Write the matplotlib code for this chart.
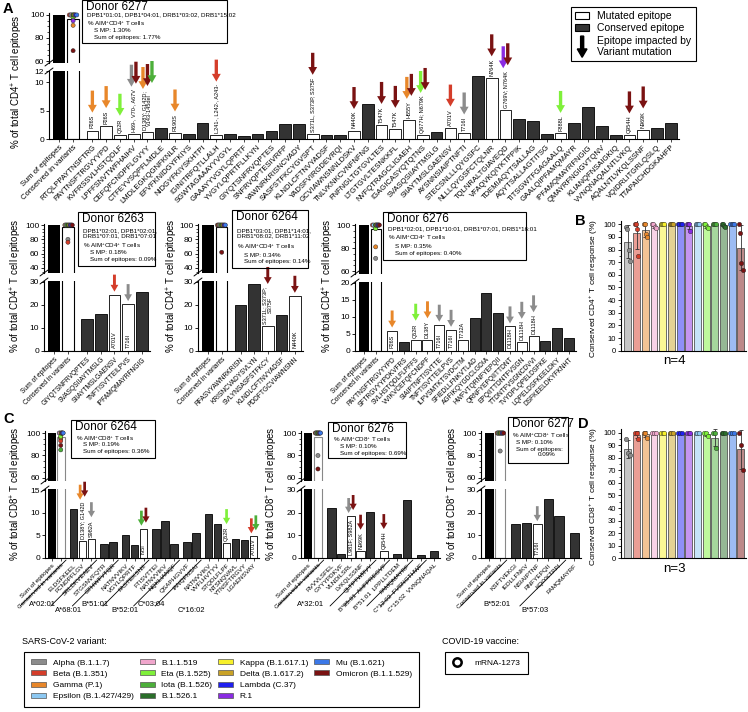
import numpy as np
import matplotlib
matplotlib.use('Agg')
import matplotlib.pyplot as plt
from matplotlib.patches import Patch, Rectangle, FancyArrow
from matplotlib.lines import Line2D
from matplotlib.legend_handler import HandlerPatch
from matplotlib.textpath import TextPath
from matplotlib.font_manager import FontProperties
from matplotlib.ticker import MultipleLocator
from matplotlib.transforms import offset_copy
from matplotlib.colors import to_rgb

plt.rcParams['font.family'] = ['Liberation Sans', 'DejaVu Sans']
plt.rcParams['mathtext.fontset'] = 'custom'
plt.rcParams['mathtext.rm'] = 'Liberation Sans'
plt.rcParams['mathtext.it'] = 'Liberation Sans:italic'
plt.rcParams['mathtext.bf'] = 'Liberation Sans:bold'
plt.rcParams['axes.linewidth'] = 0.8

# ---------------- data ----------------
variant_keys = ['Alpha', 'Beta', 'Gamma', 'Epsilon', 'B.1.1.519', 'Eta', 'Iota', 'B.1.526.1',
                'Kappa', 'Delta', 'Lambda', 'R.1', 'Mu', 'Omicron']
variant_labels = ['Alpha (B.1.1.7)', 'Beta (B.1.351)', 'Gamma (P.1)', 'Epsilon (B.1.427/429)',
                  'B.1.1.519', 'Eta (B.1.525)', 'Iota (B.1.526)', 'B.1.526.1',
                  'Kappa (B.1.617.1)', 'Delta (B.1.617.2)', 'Lambda (C.37)', 'R.1',
                  'Mu (B.1.621)', 'Omicron (B.1.1.529)']
variant_colors = ['#8c8c8c', '#d43d2a', '#e8872a', '#8cc8f2', '#f0a6cc', '#7ff03a', '#4caf3a', '#2a6e2a',
                  '#f7f02a', '#c9a227', '#1f1ff0', '#8a2be2', '#3b78e7', '#7a1212']
summary_order = [0, 1, 2, 4, 8, 9, 10, 11, 3, 5, 6, 7, 12, 13]

# panel A, donor 6277 (CD4)
a6277_epitopes = ["RTQLPPAYTNSFTRG", "PAYTNSFTRGVYYPD", "KVFRSSVLHSTQDLF", "LPFFSNVTWFHAIHV",
                  "CEFQFCNDPFLGVYY", "CTFEYVSQPFLMDLE", "LMDLEGKQGNFKNLR", "EFVFKNIDGYFKIYS",
                  "NIDGYFKIYSKHTPI", "IGINITRFQTLLALH", "SGWTAGAAAYYVGYL", "GAAAYYVGYLQPRTF",
                  "YVGYLQPRTFLLKYN", "GIYQTSNFRVQPTES", "SNFRVQPTESIVRFP", "YAWNRKRISNCVADY",
                  "SASFSTFKCYGVSPT", "KLNDLCFTNVYADSF", "YADSFVIRGDEVRQI", "GCVIAWNSNNLDSKV",
                  "TNLVKNKCVNFNFNG", "FNFNGLTGTGVLTES", "LTGTGVLTESNKKFL", "NVFQTRAGCLIGAEH",
                  "IGAGICASYQTQTNS", "SVASQSIIAYTMSLG", "SIIAYTMSLGAENSV", "AYSNNSIAIPTNFTI",
                  "STECSNLLLQYGSFC", "NLLLQYGSFCTQLNR", "TQLNRALTGIAVEQD", "VFAQVKQIYKTPPIK",
                  "TDEMIAQYTSALLAG", "AQYTSALLAGTITSG", "TITSGWTFGAGAALQ", "GAALQIPFAMQMAYR",
                  "IPFAMQMAYRFNGIG", "QMAYRFNGIGVTQNV", "KLIANQFNSAIGKIQ", "VVNQNAQALNTLVKQ",
                  "AQALNTLVKQLSSNF", "VQIDRLITGRLQSLQ", "TTAPAICHDGKAHFP"]
a6277_values = [1.5, 2.3, 0.75, 0.8, 1.25, 1.9, 1.1, 0.95, 2.8, 0.7, 0.8, 0.6, 0.8, 1.5, 2.6, 2.6,
                0.9, 0.65, 0.65, 1.5, 6.2, 2.45, 1.75, 3.3, 0.65, 1.2, 1.9, 1.05, 11.2, 10.8, 5.1,
                3.6, 3.2, 0.95, 1.05, 2.8, 5.6, 2.35, 0.75, 0.65, 1.6, 2.0, 2.8]
a6277_mutations = {0: ("P26S", ["Gamma"]), 1: ("P26S", ["Gamma"]), 2: ("Q52R", ["Eta"]),
                   3: ("H69-, V70-, A67V", ["Alpha", "Omicron"]),
                   4: ("D138Y; G142D;\nV143-145del", ["Gamma", "Omicron", "Iota"]),
                   6: ("R190S", ["Gamma"]), 9: ("L241-, L242-, A243-", ["Beta"]),
                   16: ("S371L, S373P, S375F", ["Omicron"]), 19: ("N440K", ["Omicron"]),
                   21: ("T547K", ["Omicron"]), 22: ("T547K", ["Omicron"]),
                   23: ("H655Y", ["Gamma", "Omicron"]), 24: ("Q677H; N679K", ["Eta", "Omicron"]),
                   26: ("A701V", ["Beta"]), 27: ("T716I", ["Alpha"]), 29: ("N764K", ["Omicron"]),
                   30: ("G769V; N764K", ["R.1", "Omicron"]), 34: ("F888L", ["Eta"]),
                   39: ("Q954H", ["Omicron"]), 40: ("N969K", ["Omicron"])}
a6277_conserved = [98, 100, 91, 100, 100, 98, 100, 100, 100, 100, 100, 95, 100, 69]

# donor 6263 (CD4)
a6263_epitopes = ["GIYQTSNFRVQPTES", "SVASQSIIAYTMSLG", "SIIAYTMSLGAENSV", "TNFTISVTTEILPVS", "IPFAMQMAYRFNGIG"]
a6263_values = [13.7, 15.9, 24.4, 20.3, 25.5]
a6263_mutations = {2: ("A701V", ["Beta"]), 3: ("T716I", ["Alpha"])}
a6263_conserved = [80, 76, 100, 100, 100, 100, 100, 100, 100, 100, 100, 100, 100, 100]

# donor 6264 (CD4)
a6264_epitopes = ["RFASVYAWNRKRISN", "KRISNCVADYSVLYN", "SVLYNSASFSTFKCY", "KLNDLCFTNVYADSF", "PDDFTGCVIAWNSNN"]
a6264_values = [19.7, 28.8, 11.0, 15.4, 23.9]
a6264_mutations = {2: ("S371L; S373P;\nS375F", ["Omicron"]), 4: ("N440K", ["Omicron"])}
a6264_conserved = [100, 100, 100, 100, 100, 100, 100, 100, 100, 100, 100, 100, 100, 62]

# donor 6276 (CD4)
a6276_epitopes = ["PAYTNSFTRGVYYPD", "SFTRGVYYPDKVFRS", "SVLHSTQDLFLPFFS", "VVIKVCEFQFCNDPF",
                  "SIAIPTNFTISVTTE", "TNFTISVTTEILPVS", "ILPVSMTKTSVDCTM", "SFIEDLLFNKVTLAD",
                  "AGFIKQYGDCLGDIA", "HWFVTQRNFYEPQII", "QRNFYEPQIITTDNT", "EPQIITTDNTFVSGN",
                  "TTDNTFVSGNCDVVI", "TVYDPLQPELDSFKE", "LQPELDSFKEELDKY", "DSFKEELDKYFKNHT"]
a6276_values = [6.0, 2.5, 3.3, 3.3, 7.7, 6.2, 3.1, 9.8, 17.0, 11.2, 7.2, 2.5, 4.4, 2.8, 6.8, 3.9]
a6276_mutations = {0: ("P26S", ["Gamma"]), 2: ("Q52R", ["Eta"]), 3: ("D138Y", ["Gamma"]),
                   4: ("T716I", ["Alpha"]), 5: ("T716I", ["Alpha"]), 6: ("T732A", []),
                   10: ("D1118H", ["Alpha"]), 11: ("D1118H", ["Alpha"]), 12: ("D1118H", ["Alpha"])}
a6276_conserved = [71, 100, 81, 100, 97, 97, 100, 100, 100, 100, 100, 100, 100, 100]

# panel C, CD8
c6264_epitopes = ["ELDSFKEEL", "FCNDPFLGV", "SRLDKVEAEV", "STGSNVFQTR", "GTHWFVTQR", "NATNVVIKV",
                  "VGYLQPRTF", "FASTEKSNII", "FTISVTTEI", "NATNVVIKV", "NQKLIANQF", "QSAPHGVVF",
                  "IANQFNSAI", "NATNVVIKV", "VVFLHVTYV", "STQDLFLPF", "NTSNQVAVL", "YTNSFTRGVY",
                  "LGAENSVAY"]
c6264_values = [10.8, 3.7, 4.3, 3.0, 3.5, 5.2, 2.8, 6.5, 6.4, 8.1, 3.0, 3.5, 5.6, 9.8, 7.5, 3.3, 4.3, 4.0, 4.8]
c6264_groups = [3, 2, 3, 3, 2, 6]
c6264_hla = ["A*02:01", "A*68:01", "B*51:01", "B*52:01", "C*03:04", "C*16:02"]
c6264_mutations = {1: ("D138Y; G142D", ["Gamma", "Omicron"]), 2: ("S982A", ["Alpha"]),
                   7: ("T95I", ["Iota", "Omicron"]), 15: ("Q52R", ["Eta"]), 18: ("A701V", ["Beta", "Iota"])}
c6264_conserved = [95, 93, 96, 100, 100, 97, 85, 100, 100, 100, 100, 100, 100, 89]

c6276_epitopes = ["RVVVLSFEL", "GYYYPDKVF", "VLNDILSRL", "LVKQLSSNF", "QLTPTWRVY",
                  "B*35:01  AHFPREGVF", "B*51:01  LPPLLTDEM", "FAMQMAYRF",
                  "C*12:03  FVSNGTHWF", "C*15:02  VVNQNAQAL"]
c6276_values = [21.9, 1.8, 18.5, 3.0, 20.2, 3.1, 1.8, 25.5, 1.5, 3.2]
c6276_groups = [5, 1, 2, 1, 1]
c6276_hla = ["A*32:01", None, None, None, None]
c6276_mutations = {2: ("L981F; S982A", ["Alpha", "Omicron"]), 3: ("N969K", ["Omicron"]),
                   5: ("Q954H", ["Omicron"])}
c6276_conserved = [80, 100, 100, 100, 100, 100, 100, 100, 100, 100, 100, 100, 100, 68]

c6277_epitopes = ["KSFTVEKGI", "IEDLLFNKV", "NSIAIPTNF", "RNFYEPQII", "KQIYKTPPI", "FAMQMAYRF"]
c6277_values = [14.9, 15.5, 14.9, 25.8, 18.3, 10.8]
c6277_groups = [5, 1]
c6277_hla = ["B*52:01", "B*57:03"]
c6277_mutations = {2: ("T716I", ["Alpha"])}
c6277_conserved = [84, 100, 100, 100, 100, 100, 100, 100, 100, 100, 100, 100, 100, 100]

# panels B and D: conserved response per variant, one value per donor (legend order)
cd4_summary = [[98, 96, 80, 71], [100, 100, 96, 75], [100, 100, 92, 90], [100, 100, 100, 100],
               [100, 100, 98, 97], [100, 100, 98, 97], [100, 100, 100, 100], [100, 100, 99, 98],
               [100, 100, 100, 100], [100, 100, 100, 100], [100, 100, 100, 100], [100, 100, 100, 95],
               [100, 100, 100, 100], [100, 93, 69, 64]]
cd8_summary = [[95, 84, 82], [100, 100, 95], [100, 100, 96], [100, 100, 100], [100, 100, 100],
               [100, 100, 97], [100, 100, 88], [100, 100, 100], [100, 100, 100], [100, 100, 100],
               [100, 100, 100], [100, 100, 100], [100, 100, 100], [100, 90, 70]]

# ---------------- drawing ----------------
W, H = 748, 712
fig = plt.figure(figsize=(W / 100, H / 100), dpi=100)
color_of = dict(zip(variant_keys, variant_colors))
light = [tuple(0.5 * np.array(to_rgb(c)) + 0.5) for c in variant_colors]
fp = FontProperties(family='Liberation Sans')


def px_axes(x0, y0, x1, y1):
    return fig.add_axes([x0 / W, 1 - y1 / H, (x1 - x0) / W, (y1 - y0) / H])


def fig_text(x, y, s, **kw):
    return fig.text(x / W, 1 - y / H, s, **kw)


def text_px(s, size):
    return max(TextPath((0, 0), line, size=size, prop=fp).get_extents().width for line in s.split('\n')) * 100 / 72


def drop_arrow(ax, x, y, dx, dy, color, length, scale):
    tr = offset_copy(ax.transData, fig=fig, x=dx, y=dy, units='dots')
    ax.annotate('', xy=(x, y), xycoords=tr, xytext=(0, length), textcoords='offset pixels',
                arrowprops=dict(arrowstyle='simple,head_length=0.7,head_width=0.8,tail_width=0.3',
                                fc=color, ec='none', mutation_scale=scale, shrinkA=0, shrinkB=0),
                annotation_clip=False)


def break_mark(ax, ypos):
    tr = offset_copy(ax.transAxes, fig=fig, x=-4, y=-3, units='dots')
    ax.annotate('', xy=(0, ypos), xycoords=tr, xytext=(8, 6), textcoords='offset pixels',
                arrowprops=dict(arrowstyle='-', lw=0.7, color='black', shrinkA=0, shrinkB=0),
                annotation_clip=False)


def donor_panel(x0, x1, hi_px, lo_px, hi_lim, lo_lim, hi_ticks, lo_ticks, epitopes, values,
                mutations, conserved, groups=None, hla=None, inside=True, arrow_len=18,
                arrow_scale=7, label_size=5, cons_edge='black'):
    sizes = groups if groups else [len(values)]
    xs, start = [], 2.4
    for g in sizes:
        xs.extend(start + np.arange(g))
        start += g + 0.4
    xs = np.array(xs)
    ax_hi = px_axes(x0, hi_px[0], x1, hi_px[1])
    ax_lo = px_axes(x0, lo_px[0], x1, lo_px[1])
    cons_mean = np.mean(conserved)
    for ax in (ax_hi, ax_lo):
        ax.bar(0, 100, width=0.85, color='black', lw=0)
        ax.bar(1, cons_mean, width=0.85, color='white', edgecolor=cons_edge, lw=0.8)
        ax.set_xlim(-0.75, xs[-1] + 0.6)
        ax.spines[['top', 'right']].set_visible(False)
        ax.tick_params(axis='y', labelsize=6, length=2.5, width=0.6, pad=1)
        ax.tick_params(axis='y', which='minor', length=1.5, width=0.5)
    ax_hi.set_ylim(hi_lim)
    ax_hi.set_yticks(hi_ticks)
    ax_hi.yaxis.set_minor_locator(MultipleLocator(5))
    ax_hi.spines['bottom'].set_visible(False)
    ax_hi.set_xticks([])
    ax_lo.set_ylim(lo_lim)
    ax_lo.set_yticks(lo_ticks)
    break_mark(ax_hi, 0)
    break_mark(ax_lo, 1)

    is_mut = np.array([i in mutations for i in range(len(values))])
    ax_lo.bar(xs, values, width=0.85, color=np.where(is_mut, 'white', '#333333'),
              edgecolor='black', lw=0.6)
    ax_lo.set_xticks([0, 1] + list(xs))
    ax_lo.set_xticklabels(['Sum of epitopes', 'Conserved in variants'] + list(epitopes),
                          rotation=45, ha='right', rotation_mode='anchor', fontsize=label_size)
    ax_lo.tick_params(axis='x', length=2, width=0.5, pad=1.5)

    ppu = ax_lo.bbox.height / (lo_lim[1] - lo_lim[0])
    for i, (txt, vs) in mutations.items():
        tw = text_px(txt, 4)
        bar_px = values[i] * ppu
        if inside and bar_px >= tw + 5:
            ax_lo.annotate(txt, xy=(xs[i], 0), xytext=(0, 3), textcoords='offset pixels', rotation=90,
                           ha='center', va='bottom', fontsize=4, linespacing=1.0)
            base = 3
        else:
            ax_lo.annotate(txt, xy=(xs[i], values[i]), xytext=(0, 2), textcoords='offset pixels',
                           rotation=90, ha='center', va='bottom', fontsize=4, linespacing=1.0,
                           annotation_clip=False)
            base = tw + 5
        n = len(vs)
        for k, v in enumerate(vs):
            drop_arrow(ax_lo, xs[i], values[i], (k - (n - 1) / 2) * 4.5, base + k * 3,
                       color_of[v], arrow_len, arrow_scale)

    vals = np.array(conserved)
    xd = np.where(vals >= 99.5, 1 + np.linspace(-0.32, 0.32, len(vals)), 1.0)
    ax_hi.scatter(xd, vals, c=variant_colors, s=9, edgecolor='#222222', lw=0.3, zorder=3, clip_on=False)

    if groups:
        ends = np.cumsum(sizes)
        bounds = [1.7] + [(xs[e - 1] + xs[e]) / 2 for e in ends[:-1]]
        for b in bounds:
            tr = offset_copy(ax_lo.get_xaxis_transform(), fig=fig, x=-1, y=-2, units='dots')
            ax_lo.annotate('', xy=(b, 0), xycoords=tr, xytext=(-46, -46), textcoords='offset pixels',
                           arrowprops=dict(arrowstyle='-', lw=0.6, color='black', shrinkA=0, shrinkB=0),
                           annotation_clip=False)
        starts = np.concatenate([[0], ends[:-1]])
        for j, (s0, e0) in enumerate(zip(starts, ends)):
            if hla[j] is None:
                continue
            tr = offset_copy(ax_lo.get_xaxis_transform(), fig=fig, x=-40, y=-46 - 6 * (j % 2), units='dots')
            ax_lo.text(xs[s0:e0].mean(), 0, hla[j], transform=tr, ha='center', va='center', fontsize=5.5)
    return ax_hi, ax_lo


def info_box(x0, y0, x1, y1, title, lines):
    fig.patches.append(Rectangle((x0 / W, 1 - y1 / H), (x1 - x0) / W, (y1 - y0) / H,
                                 transform=fig.transFigure, fill=False, ec='black', lw=0.8))
    fig_text(x0 + 4, y0 + 7, title, fontsize=8.5, va='center')
    for dx, dy, s in lines:
        fig_text(x0 + dx, y0 + dy, s, fontsize=4.5, va='center')


def summary_panel(y0, y1, ylim, data, ylabel, ylab_y, n_label, n_y):
    ax = px_axes(621, y0, 746, y1)
    for j, k in enumerate(summary_order):
        vals = np.array(data[k], dtype=float)
        m, sd = vals.mean(), vals.std(ddof=1)
        ax.bar(j, m, width=0.8, color=light[k], edgecolor='#555555', lw=0.6, zorder=1)
        ax.errorbar(j, m, yerr=sd, fmt='none', ecolor='#333333', elinewidth=0.6, capsize=1.5,
                    capthick=0.6, zorder=2)
        ax.scatter(j + np.linspace(-0.2, 0.2, len(vals)), vals, s=10, color=variant_colors[k],
                   edgecolor='#222222', lw=0.3, zorder=3, clip_on=False)
    ax.set_xlim(-0.8, 13.6)
    ax.set_ylim(ylim)
    ax.set_yticks(np.arange(0, 101, 10))
    ax.yaxis.set_minor_locator(MultipleLocator(5))
    ax.set_xticks([])
    ax.spines[['top', 'right']].set_visible(False)
    ax.tick_params(axis='y', labelsize=5.5, length=2.5, width=0.6, pad=1)
    ax.tick_params(axis='y', which='minor', length=1.5, width=0.5)
    fig_text(594, ylab_y, ylabel, rotation=90, fontsize=6, ha='center', va='center')
    fig_text(674, n_y, n_label, fontsize=9.5, ha='center', va='center')


cd4_ylabel = '% of total CD4$^{+}$ T cell epitopes'
cd8_ylabel = '% of total CD8$^{+}$ T cell epitopes'

# ---- A ----
donor_panel(49, 679, (13, 63), (71, 139), (58.3, 101.7), (0, 12), [60, 80, 100], [0, 5, 10, 12],
            a6277_epitopes, a6277_values, a6277_mutations, a6277_conserved,
            inside=False, arrow_len=22, arrow_scale=8, label_size=5.5)
fig_text(17, 82, cd4_ylabel, rotation=90, fontsize=7, ha='center', va='center')
info_box(82, 0, 227, 43, 'Donor 6277',
         [(5, 15, 'DPB1*01:01, DPB1*04:01, DRB1*03:02, DRB1*15:02'),
          (5, 24, '% AIM$^{+}$CD4$^{+}$ T cells'), (12, 31, 'S MP: 1.30%'),
          (12, 38, 'Sum of epitopes: 1.77%')])

donor_panel(44, 150, (224, 273), (281, 351), (33, 101.5), (0, 30.3), [40, 60, 80, 100], [0, 10, 20, 30],
            a6263_epitopes, a6263_values, a6263_mutations, a6263_conserved, arrow_len=17, label_size=4.8)
fig_text(16, 286, cd4_ylabel, rotation=90, fontsize=7, ha='center', va='center')
info_box(78, 212, 155, 266, 'Donor 6263',
         [(5, 19, 'DPB1*02:01, DPB1*02:01,'), (5, 24, 'DRB1*07:01, DRB1*07:01'),
          (5, 34, '% AIM$^{+}$CD4$^{+}$ T cells'), (12, 41, 'S MP: 0.18%'),
          (12, 48, 'Sum of epitopes: 0.09%')])

donor_panel(198, 303, (224, 273), (281, 351), (33, 101.5), (0, 30.3), [40, 60, 80, 100], [0, 10, 20, 30],
            a6264_epitopes, a6264_values, a6264_mutations, a6264_conserved, arrow_len=17, label_size=4.8)
fig_text(172, 286, cd4_ylabel, rotation=90, fontsize=7, ha='center', va='center')
info_box(232, 210, 308, 268, 'Donor 6264',
         [(5, 21, 'DPB1*03:01, DPB1*14:01,'), (5, 26, 'DRB1*08:02, DRB1*11:02'),
          (5, 37, '% AIM$^{+}$CD4$^{+}$ T cells'), (12, 45, 'S MP: 0.34%'),
          (12, 52, 'Sum of epitopes: 0.14%')])

donor_panel(355, 576, (224, 274), (282, 351), (57.4, 100.9), (0, 20.2), [60, 80, 100], [0, 5, 10, 15, 20],
            a6276_epitopes, a6276_values, a6276_mutations, a6276_conserved, arrow_len=17, label_size=4.8)
fig_text(328, 286, cd4_ylabel, rotation=90, fontsize=7, ha='center', va='center')
info_box(383, 212, 526, 260, 'Donor 6276',
         [(5, 17, 'DPB1*02:01, DPB1*10:01, DRB1*07:01, DRB1*16:01'),
          (5, 26, '% AIM$^{+}$CD4$^{+}$ T cells'), (12, 34, 'S MP: 0.35%'),
          (12, 41, 'Sum of epitopes: 0.40%')])

# ---- C ----
donor_panel(45, 259, (431, 481), (489, 558), (57.3, 101.8), (0, 15.3), [60, 80, 100], [0, 5, 10, 15],
            c6264_epitopes, c6264_values, c6264_mutations, c6264_conserved, groups=c6264_groups,
            hla=c6264_hla, arrow_len=15, arrow_scale=6.5, label_size=4.6, cons_edge='#888888')
fig_text(16, 494, cd8_ylabel, rotation=90, fontsize=7, ha='center', va='center')
info_box(71, 420, 155, 458, 'Donor 6264',
         [(5, 19, '% AIM$^{+}$CD8$^{+}$ T cells'), (12, 25, 'S MP: 0.19%'),
          (12, 32, 'Sum of epitopes: 0.36%')])

donor_panel(301, 440, (431, 481), (489, 558), (57.3, 101.8), (0, 30.4), [60, 80, 100], [0, 10, 20, 30],
            c6276_epitopes, c6276_values, c6276_mutations, c6276_conserved, groups=c6276_groups,
            hla=c6276_hla, arrow_len=15, arrow_scale=6.5, label_size=4.6, cons_edge='#888888')
fig_text(272, 494, cd8_ylabel, rotation=90, fontsize=7, ha='center', va='center')
info_box(328, 422, 406, 458, 'Donor 6276',
         [(5, 18, '% AIM$^{+}$CD8$^{+}$ T cells'), (12, 24, 'S MP: 0.10%'),
          (12, 31, 'Sum of epitopes: 0.69%')])

donor_panel(481, 581, (431, 481), (489, 558), (57.3, 101.8), (0, 30.4), [60, 80, 100], [0, 10, 20, 30],
            c6277_epitopes, c6277_values, c6277_mutations, c6277_conserved, groups=c6277_groups,
            hla=c6277_hla, arrow_len=15, arrow_scale=6.5, label_size=4.6, cons_edge='#888888')
fig_text(453, 494, cd8_ylabel, rotation=90, fontsize=7, ha='center', va='center')
info_box(508, 417, 568, 463, 'Donor 6277',
         [(4, 19, '% AIM$^{+}$CD8$^{+}$ T cells'), (8, 25, 'S MP: 0.10%'),
          (8, 32, 'Sum of epitopes:'), (30, 38, '0.09%')])

# ---- B and D ----
summary_panel(221, 350.7, (0, 102.6), cd4_summary, 'Conserved CD4$^{+}$ T cell response (%)', 288, 'n=4', 361)
summary_panel(429, 558.3, (0, 102.9), cd8_summary, 'Conserved CD8$^{+}$ T cell response (%)', 496, 'n=3', 569)

# panel letters
for x, y, s in [(3, 9, 'A'), (575, 221, 'B'), (3, 419, 'C'), (578, 424, 'D')]:
    fig_text(x, y, s, fontsize=10.5, fontweight='bold', va='center')

# ---- legends ----
arrow_handle = Patch(color='black')


def legend_arrow(legend, orig_handle, xdescent, ydescent, width, height, fontsize):
    return FancyArrow(width / 2, height + 5, 0, -(height + 10), width=2.2, head_width=7,
                      head_length=6, length_includes_head=True, color='black')


leg = fig.legend([Patch(fc='white', ec='black', lw=0.8), Patch(fc='#333333', ec='black', lw=0.8), arrow_handle],
                 ['Mutated epitope', 'Conserved epitope', 'Epitope impacted by\nVariant mutation'],
                 loc='upper left', bbox_to_anchor=(566 / W, 1 - 2 / H), fontsize=7.5, handlelength=1.3,
                 handleheight=0.7, handletextpad=0.8, labelspacing=0.2, borderpad=0.4, fancybox=False,
                 edgecolor='black', framealpha=1,
                 handler_map={arrow_handle: HandlerPatch(patch_func=legend_arrow)})
leg.get_frame().set_linewidth(0.8)

small = {'family': ['Liberation Sans', 'DejaVu Sans'], 'size': 6}
v_handles = [Patch(fc=c, ec='#555555', lw=0.5) for c in variant_colors] + [Patch(fc='none', ec='none')] * 2
v_labels = variant_labels + ['', '']
vleg = fig.legend(v_handles, v_labels, ncol=4, loc='upper left', bbox_to_anchor=(20 / W, 1 - 648 / H),
                  prop=small, handlelength=1.8, handleheight=0.55, handletextpad=0.8, columnspacing=0.7,
                  labelspacing=0.45, borderpad=0.85, fancybox=False, edgecolor='black', framealpha=1)
vleg.get_frame().set_linewidth(0.8)
fig_text(22, 641, 'SARS-CoV-2 variant:', fontsize=6.5, va='center')

mleg = fig.legend([Line2D([], [], marker='o', ls='none', mfc='white', mec='black', mew=1.8, ms=6)],
                  ['mRNA-1273'], loc='upper left', bbox_to_anchor=(441 / W, 1 - 648 / H), prop=small,
                  handlelength=1.2, handletextpad=1.5, borderpad=0.85, fancybox=False,
                  edgecolor='black', framealpha=1)
mleg.get_frame().set_linewidth(0.8)
fig_text(442, 641, 'COVID-19 vaccine:', fontsize=6.5, va='center')

plt.savefig('out.png', dpi=100)
